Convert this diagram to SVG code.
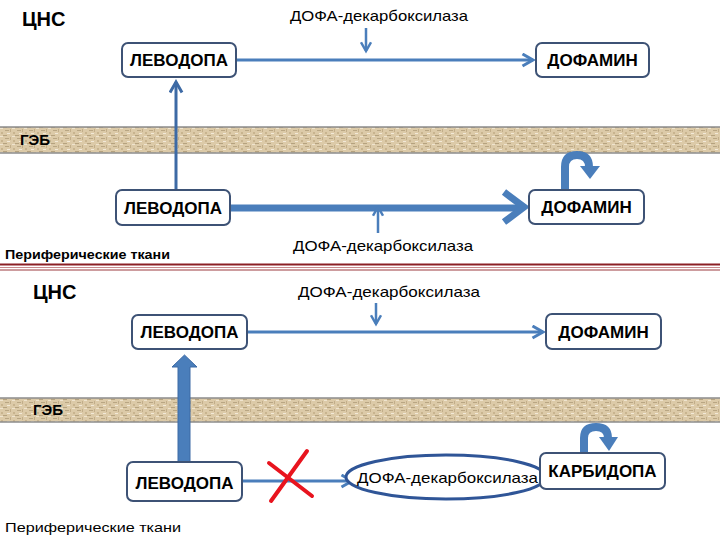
<svg xmlns="http://www.w3.org/2000/svg" width="720" height="540" viewBox="0 0 720 540">
<defs>
<pattern id="tex" width="12" height="8" patternUnits="userSpaceOnUse">
<rect width="12" height="8" fill="#dccaa8"/>
<rect x="0" y="0" width="3" height="1" fill="#efe4cf"/>
<rect x="5" y="2" width="4" height="1" fill="#b9a683"/>
<rect x="1" y="4" width="2" height="2" fill="#c8b48f"/>
<rect x="7" y="5" width="3" height="1" fill="#f2e9d8"/>
<rect x="10" y="1" width="1" height="3" fill="#c2ae8a"/>
<rect x="3" y="7" width="4" height="1" fill="#b5a27f"/>
</pattern>
<marker id="ah" viewBox="0 0 10 10" refX="8" refY="5" markerWidth="5" markerHeight="5" orient="auto" markerUnits="strokeWidth">
<path d="M1,1 L8,5 L1,9" fill="none" stroke="context-stroke" stroke-width="2"/>
</marker>
</defs>
<style>
.box{fill:#fff;stroke:#3d5275;stroke-width:2}
.lbl{font-family:"Liberation Sans",Arial,sans-serif;font-weight:bold;font-size:17px;fill:#000;text-anchor:middle}
.enz{font-family:"Liberation Sans",Arial,sans-serif;font-size:15px;fill:#000}
.hdr{font-family:"Liberation Sans",Arial,sans-serif;font-weight:bold;fill:#000}
.per{font-family:"Liberation Sans",Arial,sans-serif;font-size:13px;fill:#000}
.ln{stroke:#4a7ebb;fill:none}
.band{fill:url(#tex);stroke:#8c8c8c;stroke-width:1.5}
</style>
<rect width="720" height="540" fill="#fff"/>

<!-- barriers -->
<g id="bbb-top">
<rect class="band" x="-2" y="127" width="724" height="26"/>
<text class="hdr" x="20" y="145" font-size="15">ГЭБ</text>
</g>
<g id="bbb-bottom">
<rect class="band" x="-2" y="398" width="724" height="24"/>
<text class="hdr" x="33" y="415" font-size="15">ГЭБ</text>
</g>

<!-- separator -->
<g id="separator">
<line x1="0" y1="264.5" x2="720" y2="264.5" stroke="#8b1e24" stroke-width="2"/>
<line x1="0" y1="267.5" x2="720" y2="267.5" stroke="#c9898c" stroke-width="1"/>
<line x1="0" y1="270" x2="720" y2="270" stroke="#9b3a3e" stroke-width="1.2"/>
</g>

<!-- section labels -->
<g id="labels">
<text class="hdr" x="22" y="26" font-size="20">ЦНС</text>
<text class="hdr" x="33" y="299" font-size="20">ЦНС</text>
<text class="per" x="5" y="259" font-weight="bold" textLength="165" lengthAdjust="spacingAndGlyphs">Периферические ткани</text>
<text class="per" x="5" y="532" textLength="176" lengthAdjust="spacingAndGlyphs">Периферические ткани</text>
<text class="enz" x="290" y="21" textLength="178" lengthAdjust="spacingAndGlyphs">ДОФА-декарбоксилаза</text>
<text class="enz" x="293" y="251" textLength="180" lengthAdjust="spacingAndGlyphs">ДОФА-декарбоксилаза</text>
<text class="enz" x="298" y="297" textLength="182" lengthAdjust="spacingAndGlyphs">ДОФА-декарбоксилаза</text>
</g>

<!-- connectors -->
<g id="connectors">
<!-- top section -->
<line class="ln" x1="366" y1="28" x2="366" y2="51" stroke-width="2.5" marker-end="url(#ah)"/>
<line class="ln" x1="236" y1="60" x2="533" y2="60" stroke-width="3" marker-end="url(#ah)"/>
<line x1="176" y1="190" x2="176" y2="82" stroke="#3d6aa5" stroke-width="3" marker-end="url(#ah)"/>
<line class="ln" x1="230" y1="208" x2="522" y2="208" stroke-width="7"/>
<path class="ln" d="M504,192 L524,207 L504,222" stroke-width="7" stroke-linejoin="miter"/>
<line class="ln" x1="378" y1="233" x2="378" y2="207" stroke-width="2.5" marker-end="url(#ah)"/>
<path class="ln" d="M565,189 L565,167 Q565,155 577,155 Q589,155 589,167" stroke-width="8"/>
<polygon points="580,166 600,166 590,179" fill="#4a7ebb"/>
<!-- bottom section -->
<line class="ln" x1="376" y1="303" x2="376" y2="324" stroke-width="2.5" marker-end="url(#ah)"/>
<line class="ln" x1="247" y1="332" x2="543" y2="332" stroke-width="3" marker-end="url(#ah)"/>
<polygon points="178,462 178,367 172,367 184.5,355 197,367 190,367 190,462" fill="#4a7ebb" stroke="#3d6aa5" stroke-width="1"/>
<line class="ln" x1="242" y1="481" x2="352" y2="481" stroke-width="3" marker-end="url(#ah)"/>
<path class="ln" d="M584,453 L584,438 Q584,427 596,427 Q608,427 608,438" stroke-width="8"/>
<polygon points="599,437 618,437 609,451" fill="#4a7ebb"/>
<g id="block-x" stroke="#e8141e" stroke-width="4" stroke-linecap="round">
<line x1="269" y1="463" x2="312" y2="496"/>
<line x1="307" y1="451" x2="271" y2="501"/>
</g>
</g>

<!-- nodes -->
<g id="levodopa-cns-1">
<rect class="box" x="122" y="43" width="114" height="34" rx="6"/>
<text class="lbl" x="179" y="66">ЛЕВОДОПА</text>
</g>
<g id="dopamine-cns-1">
<rect class="box" x="536" y="43" width="113" height="34" rx="6"/>
<text class="lbl" x="592.5" y="66">ДОФАМИН</text>
</g>
<g id="levodopa-per-1">
<rect class="box" x="116" y="190" width="114" height="35" rx="6"/>
<text class="lbl" x="173" y="214">ЛЕВОДОПА</text>
</g>
<g id="dopamine-per-1">
<rect class="box" x="529" y="190" width="115" height="34" rx="6"/>
<text class="lbl" x="586.5" y="213">ДОФАМИН</text>
</g>
<g id="levodopa-cns-2">
<rect class="box" x="132" y="315" width="115" height="34" rx="6"/>
<text class="lbl" x="189.5" y="338">ЛЕВОДОПА</text>
</g>
<g id="dopamine-cns-2">
<rect class="box" x="546" y="314" width="115" height="35" rx="6"/>
<text class="lbl" x="603.5" y="338">ДОФАМИН</text>
</g>
<g id="levodopa-per-2">
<rect class="box" x="127" y="462" width="115" height="39" rx="6"/>
<text class="lbl" x="184.5" y="489">ЛЕВОДОПА</text>
</g>
<g id="decarboxylase-per-2">
<ellipse cx="446" cy="477" rx="100" ry="22" fill="#fff" stroke="#2f5597" stroke-width="3"/>
<text class="enz" x="357" y="483" textLength="181" lengthAdjust="spacingAndGlyphs">ДОФА-декарбоксилаза</text>
</g>
<g id="carbidopa">
<rect class="box" x="540" y="453" width="125" height="36" rx="6"/>
<text class="lbl" x="602.5" y="477">КАРБИДОПА</text>
</g>
</svg>
